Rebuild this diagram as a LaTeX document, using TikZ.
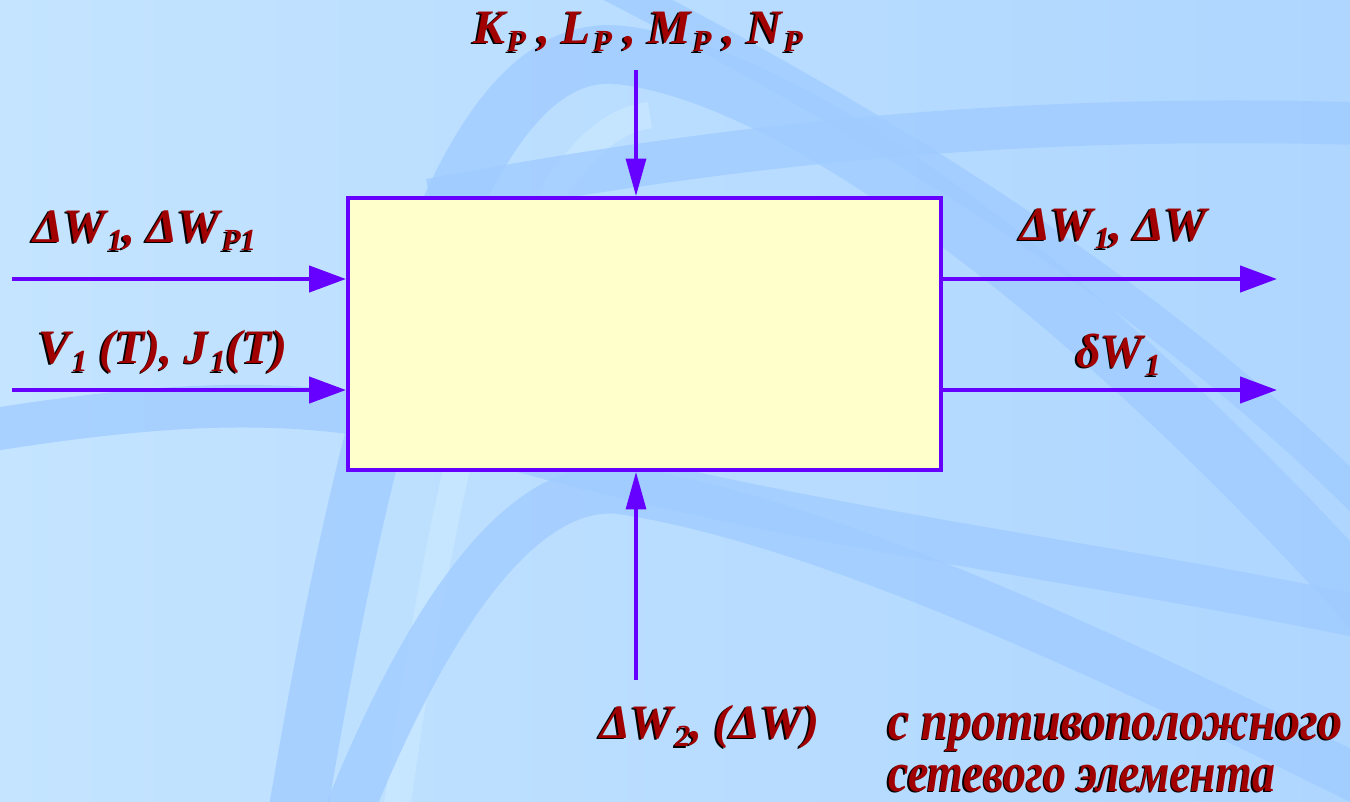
\documentclass[tikz,border=0pt]{standalone}
\usepackage{fontspec}
\setmainfont{Liberation Serif}
\usetikzlibrary{arrows.meta}
\definecolor{bgA}{HTML}{C4E4FF}
\definecolor{bgB}{HTML}{AED6FF}
\definecolor{band}{HTML}{9FCBFF}
\definecolor{hilite}{HTML}{CDEAFF}
\definecolor{linec}{HTML}{6600FF}
\definecolor{boxfill}{HTML}{FFFFCC}
\definecolor{labred}{HTML}{A00000}
\newcommand\shd[1]{\makebox[0pt][l]{\kern-1.3pt\raisebox{-1.3pt}{\color{black}#1}}#1}
\newcommand\lsub[1]{\kern1.5pt\raisebox{-0.18em}{\fontsize{23}{23}\selectfont #1}}
\tikzset{
  lab/.style={font=\bfseries\itshape\fontsize{36}{40}\selectfont, text=labred, inner sep=0pt, anchor=base west},
  cyr/.style={font=\bfseries\itshape\fontsize{42}{46}\selectfont, text=labred, inner sep=0pt, anchor=base west},
  harrow/.style={draw=linec, line width=3.4pt, -{Triangle[length=27.75pt,width=19.5pt]}},
  varrow/.style={draw=linec, line width=2.3pt, -{Triangle[length=28pt,width=15pt]}},
  bandline/.style={draw=band, opacity=0.75}
}
\begin{document}
\begin{tikzpicture}[x=0.75pt,y=-0.75pt]
\useasboundingbox (0,0) rectangle (1350,801);
% background
\shade[left color=bgA, right color=bgB] (0,0) rectangle (1350,801);
\begin{scope}
\clip (0,0) rectangle (1350,801);
\draw[bandline, line width=44pt] (290,860) .. controls (380,300) and (480,40) .. (620,55) .. controls (800,75) and (1100,300) .. (1400,640);
\draw[draw=hilite, line width=20pt, opacity=0.6] (390,860) .. controls (450,400) and (530,130) .. (650,115);
\draw[bandline, line width=32pt] (430,200) .. controls (700,150) and (1000,110) .. (1400,125);
\draw[bandline, line width=32pt] (-40,435) .. controls (200,395) and (330,395) .. (500,445) .. controls (800,530) and (1100,560) .. (1400,625);
\draw[bandline, line width=36pt] (330,860) .. controls (420,620) and (520,480) .. (620,490) .. controls (820,520) and (1100,650) .. (1400,800);
\draw[bandline, line width=24pt] (560,-40) .. controls (1000,180) and (1250,380) .. (1400,540);
\end{scope}
% box
\node[draw=linec, fill=boxfill, line width=3pt, minimum width=444.75pt, minimum height=204pt, inner sep=0pt] (box) at (644.5,334) {};
% connectors
\coordinate (l1) at (12,279);
\coordinate (l2) at (12,390);
\coordinate (r1) at (1277,279);
\coordinate (r2) at (1277,390);
\coordinate (t0) at (636,70);
\coordinate (b0) at (636,680);
\draw[harrow] (l1) -- (l1 -| box.west);
\draw[harrow] (l2) -- (l2 -| box.west);
\draw[harrow] (r1 -| box.east) -- (r1);
\draw[harrow] (r2 -| box.east) -- (r2);
\draw[varrow] (t0) -- (t0 |- box.north);
\draw[varrow] (b0) -- (b0 |- box.south);
% labels
\node[lab] (tl) at (473,43) {\shd{K\lsub{P} , L\lsub{P} , M\lsub{P} , N\lsub{P}}};
\node[lab] (ll1) at (33,242) {\shd{ΔW\lsub{1}, ΔW\lsub{P1}}};
\node[lab] (ll2) at (38,363) {\shd{V\lsub{1} (T), J\lsub{1}(T)}};
\node[lab] (rl1) at (1020,240) {\shd{ΔW\lsub{1}, ΔW}};
\node[lab] (rl2) at (1076,367) {\shd{δW\lsub{1}}};
\node[lab] (bl) at (600,738) {\shd{ΔW\lsub{2}, (ΔW)}};
\node[cyr] (c1) at (888,739) {\resizebox{340.5pt}{\height}{\shd{с противоположного}}};
\node[cyr] (c2) at (888,791) {\resizebox{290.25pt}{\height}{\shd{сетевого элемента}}};
\end{tikzpicture}
\end{document}
